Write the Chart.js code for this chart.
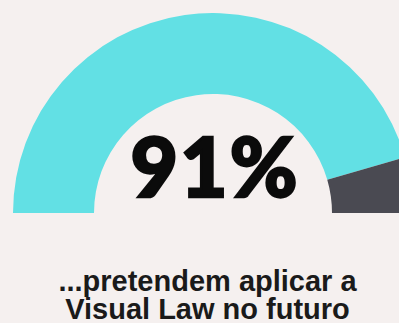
<!DOCTYPE html>
<html>
<head>
<meta charset="utf-8">
<script src="https://cdn.jsdelivr.net/npm/chart.js@4.4.0/dist/chart.umd.min.js"></script>
<style>
  html, body { margin: 0; padding: 0; }
  body {
    width: 399px; height: 323px; overflow: hidden;
    background: #f5f0ef; position: relative;
  }
  #gauge { position: absolute; left: 13px; top: 13px; width: 400px; height: 200px; }
  #pct {
    position: absolute; left: 2px; width: 426px; top: 120px;
    text-align: center; font-family: Lato, sans-serif; font-weight: 900;
    font-size: 82px; line-height: 90px; letter-spacing: 2px; color: #0b0b0b;
    -webkit-text-stroke: 2.5px #0b0b0b;
  }
  #caption {
    position: absolute; left: 0; width: 415px; top: 267px;
    text-align: center; font-family: "Liberation Sans", Arial, sans-serif; font-weight: bold;
    font-size: 29px; line-height: 28px; color: #1a1a1a;
  }
</style>
</head>
<body>
<div id="gauge"><canvas id="gaugeChart"></canvas></div>
<div id="pct">91%</div>
<div id="caption">...pretendem aplicar a<br>Visual Law no futuro</div>
<script>
// gauge data
const labels = ['pretendem aplicar', 'outros'];
const values = [91, 9];
const colors = ['#62e0e4', '#4a4a52'];

(() => {
    const ctx = document.getElementById('gaugeChart').getContext('2d');
    new Chart(ctx, {
        type: 'doughnut',
        data: {
            labels: labels,
            datasets: [{
                data: values,
                backgroundColor: colors,
                borderWidth: 0
            }]
        },
        options: {
            responsive: true,
            maintainAspectRatio: false,
            animation: false,
            rotation: -90,
            circumference: 180,
            cutout: '59.5%',
            layout: { padding: 0 },
            plugins: {
                legend: { display: false },
                tooltip: { enabled: false }
            }
        }
    });
})();
</script>
</body>
</html>
